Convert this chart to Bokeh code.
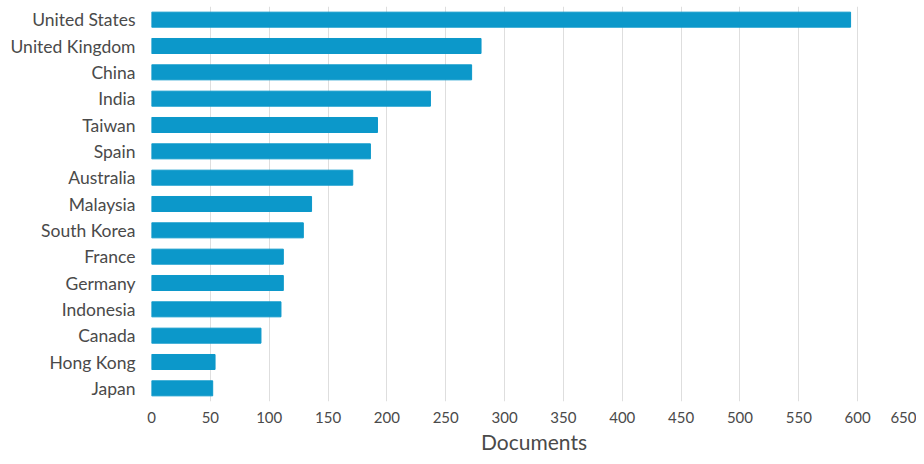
from bokeh.plotting import figure
from bokeh.models import FixedTicker
from bokeh.embed import file_html
from bokeh.resources import INLINE

countries = ["United States", "United Kingdom", "China", "India", "Taiwan", "Spain",
             "Australia", "Malaysia", "South Korea", "France", "Germany", "Indonesia",
             "Canada", "Hong Kong", "Japan"]
documents = [594, 280, 272, 237, 192, 186, 171, 136, 129, 112, 112, 110, 93, 54, 52]
x_ticks = [0, 50, 100, 150, 200, 250, 300, 350, 400, 450, 500, 550, 600, 650]

FONT = "Lato"
TXT = "#4a4a4a"
BAR = "#0c98ca"

p = figure(width=916, height=456, y_range=list(reversed(countries)), x_range=(0, 650),
           output_backend="svg", toolbar_location=None,
           min_border_left=151, min_border_right=0, min_border_top=6, min_border_bottom=20)
p.outline_line_color = None

p.hbar(y=countries, right=documents, left=0, height=0.57, fill_color=BAR, line_color=BAR)

p.xaxis.ticker = FixedTicker(ticks=x_ticks)
p.xaxis.axis_line_color = None
p.xaxis.major_tick_line_color = None
p.xaxis.minor_tick_line_color = None
p.xaxis.major_tick_out = 0
p.xaxis.major_tick_in = 0
p.xaxis.major_label_text_font = FONT
p.xaxis.major_label_text_font_size = "15px"
p.xaxis.major_label_text_color = TXT
p.xaxis.major_label_standoff = 10
p.xaxis.axis_label = "Documents"
p.xaxis.axis_label_text_font = FONT
p.xaxis.axis_label_text_font_size = "21px"
p.xaxis.axis_label_text_font_style = "normal"
p.xaxis.axis_label_text_color = TXT
p.xaxis.axis_label_standoff = 3

p.yaxis.axis_line_color = None
p.yaxis.major_tick_line_color = None
p.yaxis.minor_tick_line_color = None
p.yaxis.major_tick_out = 0
p.yaxis.major_tick_in = 0
p.yaxis.major_label_text_font = FONT
p.yaxis.major_label_text_font_size = "17.5px"
p.yaxis.major_label_text_color = TXT
p.yaxis.major_label_standoff = 16

p.xgrid.grid_line_color = "#dedede"
p.xgrid.grid_line_width = 1
p.ygrid.grid_line_color = None

open("out.html", "w").write(file_html(p, INLINE))
